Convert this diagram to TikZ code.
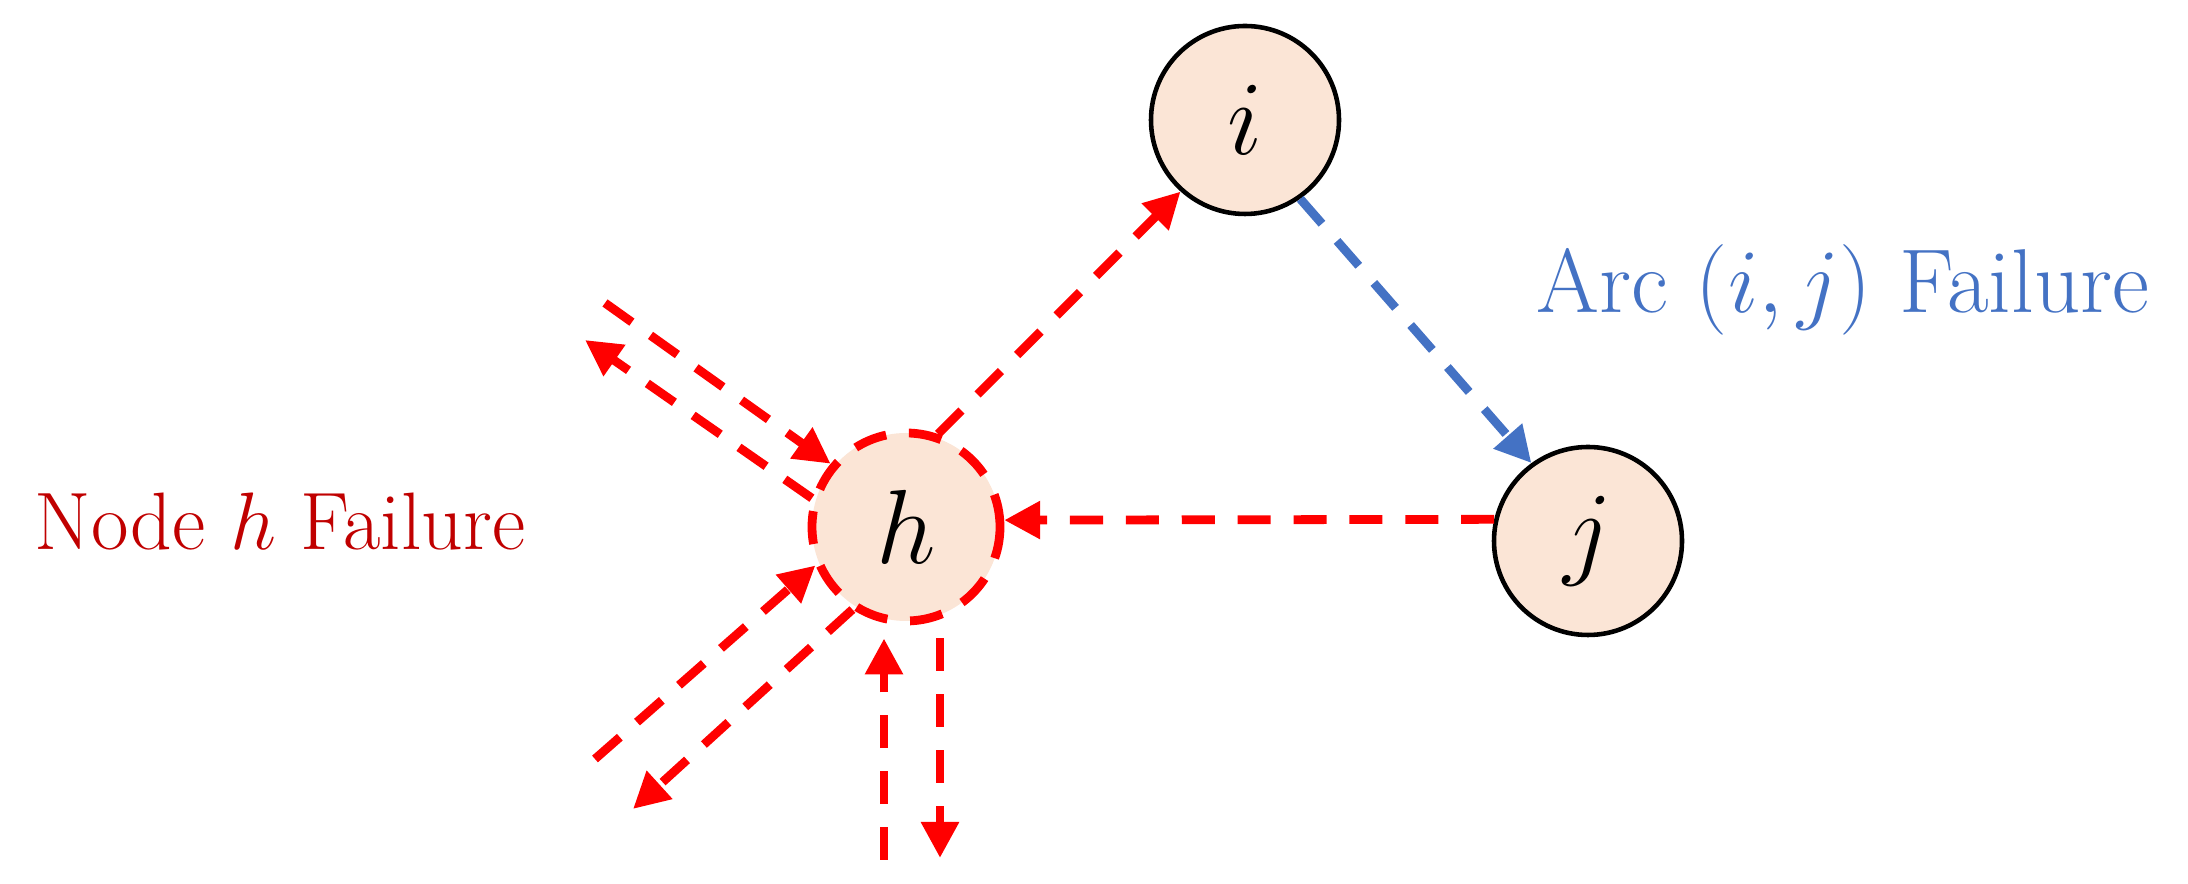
\RequirePackage{fix-cm}
\documentclass[tikz,border=0pt]{standalone}
\usepackage{tikz}
\usepackage{xcolor}
\usetikzlibrary{arrows.meta}
\definecolor{nodefill}{HTML}{FBE5D6}
\definecolor{failred}{HTML}{FF0000}
\definecolor{textred}{HTML}{C00000}
\definecolor{arcblue}{HTML}{4472C4}

\begin{document}
\begin{tikzpicture}[
    vertex/.style={circle, draw=black, line width=1.3pt, fill=nodefill,
      minimum size=1.88cm, inner sep=0pt, font=\fontsize{30}{34}\selectfont},
    failvertex/.style={vertex, draw=failred, line width=2.5pt,
      dash pattern=on 9.4pt off 6.5pt},
    redarc/.style={draw=failred, line width=2.5pt, dash pattern=on 9.4pt off 6.5pt,
      -{Triangle[length=0.36cm,width=0.36cm]}},
    bluearc/.style={redarc, draw=arcblue}]
      \useasboundingbox (0,0) rectangle (21.88,8.84);
      % Nodes
      \node[failvertex] (h) at (9.06,3.57) {$h$};
      \node[vertex] (i) at (12.45,7.64) {$i$};
      \node[vertex] (j) at (15.88,3.43) {$j$};
      % Labels
      \node[text=textred, font=\fontsize{23.2}{27}\selectfont, anchor=base] (hfail) at (2.80,3.34) {Node $h$ Failure};
      \node[text=arcblue, font=\fontsize{25.8}{30}\selectfont, anchor=base] (ijfail) at (18.43,5.71) {Arc $(i,j)$ Failure};
      % Free ends around h
      \coordinate (ulin) at (6.05,5.81);
      \coordinate (ulout) at (5.85,5.44);
      \coordinate (llin) at (5.95,1.25);
      \coordinate (llout) at (6.33,0.75);
      \coordinate (bin) at (8.84,0.24);
      \coordinate (bout) at (9.40,0.26);
      % Arcs
      \draw[redarc] (h.71) -- (i.228);
      \draw[bluearc] (i.305) -- (j.126);
      \draw[redarc] (j.167) -- (h.4);
      % Arcs at the failed node
      \draw[redarc] (ulin) -- (h.140);
      \draw[redarc] (h.163) -- (ulout);
      \draw[redarc] (llin) -- (h.203);
      \draw[redarc] (h.237) -- (llout);
      \draw[redarc, shorten >=0.13cm] (bin) -- (bin |- h.south);
      \draw[redarc, shorten <=0.13cm] (bout |- h.south) -- (bout);
    \end{tikzpicture}
\end{document}
